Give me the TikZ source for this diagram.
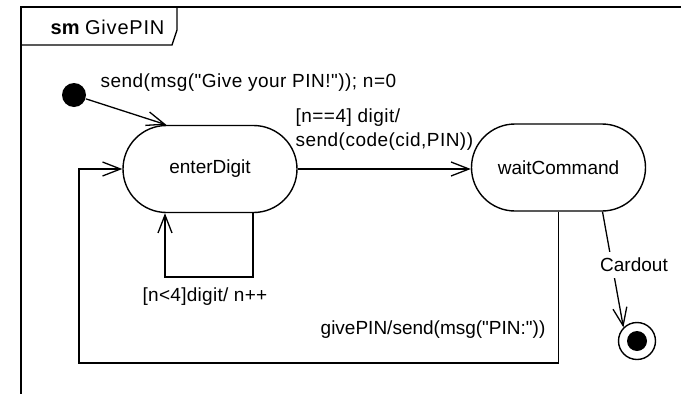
\documentclass[tikz,border=0pt]{standalone}
\usepackage{fontspec}
% plain typewriter-style quotes in the labels, so the TeX quote mapping is off
\setmainfont{Liberation Sans}[Ligatures=TeXOff]
\usetikzlibrary{arrows.meta}

\begin{document}
\begin{tikzpicture}[x=1pt, y=-1pt,
  font=\fontsize{19}{24}\selectfont,
  line width=1.3pt,
  every node/.style={inner sep=0pt},
  statebox/.style={draw, rounded corners=43.5pt, minimum width=174pt, minimum height=87pt, line width=1.4pt},
  trans/.style={-{Straight Barb[length=18pt, width=14pt, line width=1.3pt]}},
  wide/.style={font=\fontsize{19}{24}\selectfont\addfontfeatures{LetterSpace=#1}}
]
\useasboundingbox (0,0) rectangle (681,394);
\clip (0,0) rectangle (681,394);

% diagram frame and its name tab
\draw (21,7) rectangle (720,430);
\draw (21,45) -- (172,45) -- (177,30) -- (177,7);
\node[anchor=west, font=\fontsize{20}{24}\selectfont] (title) at (50,27)
  {\textbf{sm} {\addfontfeatures{LetterSpace=4}GivePIN}};

% states
\node[circle, fill=black, minimum size=24pt] (init) at (74,95) {};
\node[statebox] (enter) at (210,169) {enterDigit};
\node[statebox] (wait) at (558.5,167.5) {waitCommand};
\node[circle, draw, line width=1.4pt, minimum size=37pt] (final) at (637,341) {};
\node[circle, fill=black, minimum size=20pt] (finaldot) at (final) {};

% helper points of the orthogonal routes
\coordinate (selfR) at (253,277);
\coordinate (selfL) at (165,277);
\coordinate (loopR) at (558.5,363);
\coordinate (loopL) at (79,363);

% transitions
\draw[trans] (init) -- ([xshift=44pt]enter.north west);
\draw[trans] (enter.east) -- (enter.east -| wait.west);
\draw[trans] ([xshift=43pt]enter.south) -- (selfR) -- (selfL) -- (selfL |- enter.south);
\draw[trans] (wait.south) -- (loopR) -- (loopL) -- (loopL |- enter.west) -- (enter.west);
\draw[trans] ([xshift=44pt]wait.south) -- (final.north west);

% transition labels
\node[anchor=west, wide=2.5] (initlbl) at (100,83) {send(msg("Give your PIN!")); n=0};
\node[anchor=west, align=left, wide=2.5] (sendlbl) at (295,130) {[n==4] digit/\\send(code(cid,PIN))};
\node[wide=1.5] (selflbl) at (205,297) {[n<4]digit/ n++};
\node[anchor=east] (pinlbl) at (546,330) {givePIN/send(msg("PIN:"))};
\node[fill=white, inner xsep=1pt, inner ysep=6pt] (cardlbl) at (634,265) {Cardout};
\end{tikzpicture}
\end{document}
